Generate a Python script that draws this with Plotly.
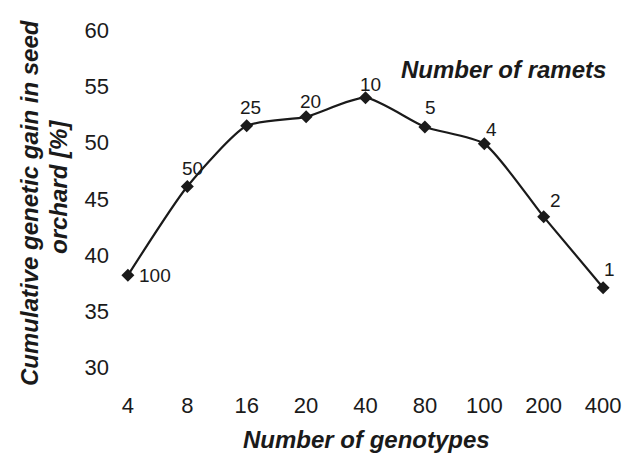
import plotly.graph_objects as go

# Number of genotypes (categorical x), cumulative gain, and ramets per genotype
genotypes = ["4", "8", "16", "20", "40", "80", "100", "200", "400"]
gain = [38.2, 46.1, 51.5, 52.3, 54.0, 51.4, 49.9, 43.4, 37.1]
ramets = ["100", "50", "25", "20", "10", "5", "4", "2", "1"]

# pixel offsets of each ramet label from its point
label_dx = [27, 5, 4, 4, 5, 6, 7, 12, 6]
label_dy = [0, 18, 18, 15, 13, 19, 14, 16, 18]

y_ticks = [30, 35, 40, 45, 50, 55, 60]

FONT = "Liberation Sans, Arial, Helvetica, sans-serif"
INK = "#1a1a1a"

fig = go.Figure()
fig.add_trace(go.Scatter(
    x=genotypes,
    y=gain,
    mode="lines+markers",
    line=dict(color=INK, width=2.2, shape="spline", smoothing=0.6),
    marker=dict(symbol="diamond", size=10, color=INK),
    cliponaxis=False,
    showlegend=False,
))

# category axes place annotations by category index
annotations = [
    dict(
        x=i, y=v, text=r, xref="x", yref="y",
        xshift=dx, yshift=dy, showarrow=False,
        xanchor="center", yanchor="middle",
        font=dict(size=19, color=INK),
    )
    for i, (v, r, dx, dy) in enumerate(zip(gain, ramets, label_dx, label_dy))
]

L, R, T, B = 116, 10, 19, 67
PLOT_W = 625 - L - R
PLOT_H = 457 - T - B


def px_to_paper(px, py):
    return (px - L) / PLOT_W, (457 - B - py) / PLOT_H


title_font = dict(size=24, color=INK)

for text, (px, py), angle in [
    ("<b><i>Number of genotypes</i></b>", (366, 440), 0),
    ("<b><i>Cumulative genetic gain in seed</i></b>", (29, 203), -90),
    ("<b><i>orchard [%]</i></b>", (58, 187), -90),
    ("<b><i>Number of ramets</i></b>", (503, 70), 0),
]:
    ax, ay = px_to_paper(px, py)
    annotations.append(dict(
        text=text, xref="paper", yref="paper", x=ax, y=ay,
        xanchor="center", yanchor="middle", textangle=angle,
        showarrow=False, font=title_font,
    ))

fig.update_layout(
    width=625,
    height=457,
    margin=dict(l=L, r=R, t=T, b=B),
    plot_bgcolor="white",
    paper_bgcolor="white",
    font=dict(family=FONT, color=INK),
    xaxis=dict(
        type="category",
        range=[-0.2, 8.2],
        automargin=False,
        showgrid=False,
        showline=False,
        zeroline=False,
        ticks="",
        tickfont=dict(size=22),
        ticklabelstandoff=0,
    ),
    yaxis=dict(
        range=[28, 61],
        tickvals=y_ticks,
        automargin=False,
        showgrid=False,
        showline=False,
        zeroline=False,
        ticks="",
        tickfont=dict(size=22),
        ticklabelstandoff=6,
    ),
    annotations=annotations,
)

fig.write_html("out.html")
